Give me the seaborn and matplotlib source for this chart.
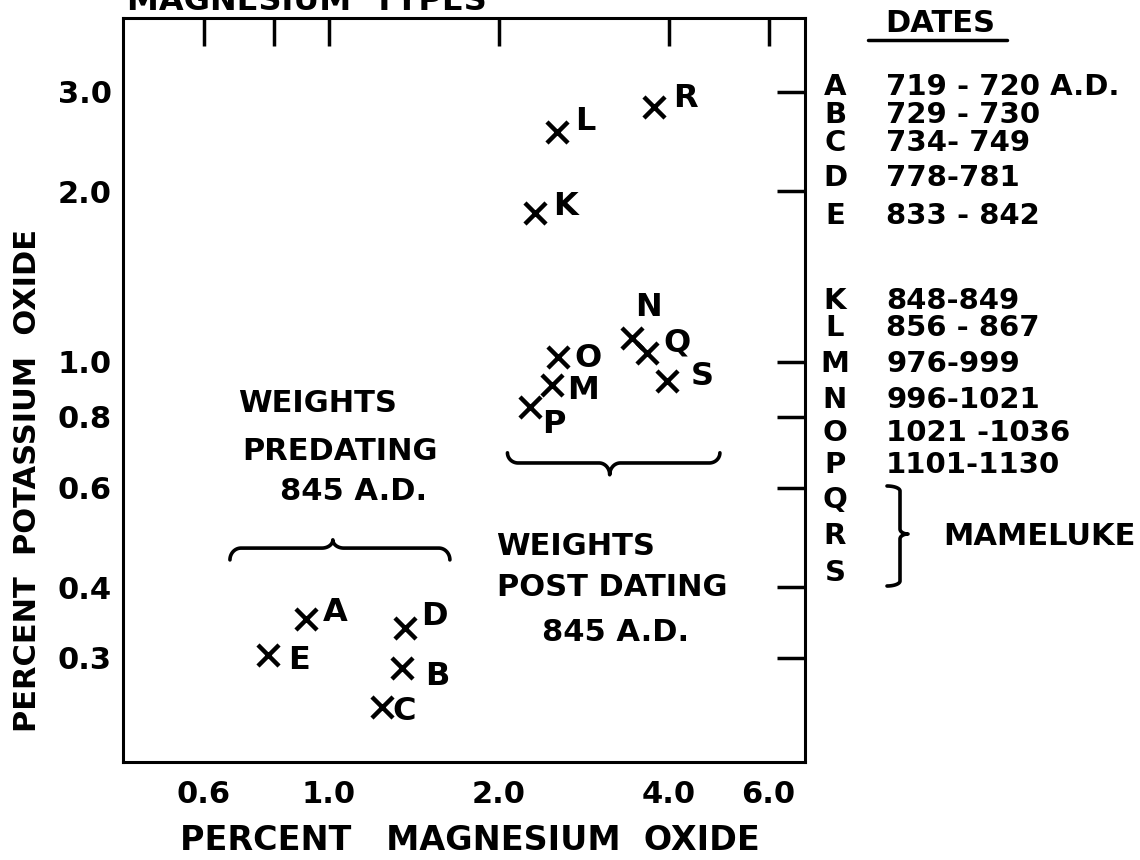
# import libraries
import numpy as np
import pandas as pd
import seaborn as sns
import matplotlib.pyplot as plt
from matplotlib.lines import Line2D
from matplotlib.ticker import FixedLocator, FixedFormatter, NullFormatter, NullLocator

# sample letters with percent oxides
samples = ["A", "B", "C", "D", "E", "K", "L", "M", "N", "O", "P", "Q", "R", "S"]
mgo = [0.909, 1.346, 1.241, 1.363, 0.780, 2.316, 2.532, 2.48, 3.44, 2.544, 2.27, 3.65, 3.76, 3.97]
k2o = [0.3515, 0.288, 0.2457, 0.339, 0.304, 1.834, 2.55, 0.911, 1.10, 1.02, 0.833, 1.037, 2.82, 0.926]

# axis ticks
xTicks = [0.6, 0.8, 1.0, 2.0, 4.0, 6.0]
xTickLabels = ["0.6", "", "1.0", "2.0", "4.0", "6.0"]
yTicks = [0.3, 0.4, 0.6, 0.8, 1.0, 2.0, 3.0]
yTickLabels = ["0.3", "0.4", "0.6", "0.8", "1.0", "2.0", "3.0"]

# date key on the right
keyLetters = ["A", "B", "C", "D", "E", "K", "L", "M", "N", "O", "P", "Q", "R", "S"]
keyDates = ["719 - 720 A.D.", "729 - 730", "734- 749", "778-781", "833 - 842",
            "848-849", "856 - 867", "976-999", "996-1021", "1021 -1036", "1101-1130",
            "", "", ""]

# group notes and their braces (x0, x1, cusp x, line y, cusp y, hook y)
groupNotes = [("WEIGHTS", 0.690, 0.816), ("PREDATING", 0.702, 0.671), ("845 A.D.", 0.819, 0.570),
              ("WEIGHTS", 1.98, 0.456), ("POST DATING", 1.98, 0.386), ("845 A.D.", 2.38, 0.321)]
predatingBrace = [0.668, 1.637, 1.016, 0.469, 0.485, 0.447]
postdatingBrace = [2.07, 4.92, 3.14, 0.663, 0.632, 0.691]

# ---- layout / styling (pixels of a 1140x860 figure) ----
W, H = 1140, 860
PX = 100 / 72  # pixels per point
labelOffsets = {"A": (30, -10), "B": (35, 6), "C": (22, 1), "D": (29, -14), "E": (31, 3),
                "K": (30, -9), "L": (28, -13), "M": (31, 3), "N": (16, -34), "O": (30, -2),
                "P": (24, 15), "Q": (30, -13), "R": (32, -12), "S": (35, -7)}
keyRowY = [85, 113, 141, 176, 214, 299, 326, 362, 398, 431, 463, 498, 534, 571]


def bracePoints(a0, a1, ac, b, tip, hook, n=20):
    # curly brace along a, with hooks at the ends and a cusp at ac
    r = 0.05 * (a1 - a0)
    t = np.linspace(0, np.pi / 2, n)
    a = np.concatenate([a0 + r - r * np.cos(t), ac - r + r * np.sin(t),
                        ac + r - r * np.cos(t), a1 - r + r * np.sin(t)])
    c = np.concatenate([hook + (b - hook) * np.sin(t), b + (tip - b) * (1 - np.cos(t)),
                        tip + (b - tip) * np.sin(t), b + (hook - b) * (1 - np.cos(t))])
    return a, c


def main():
    sns.set_style("white")
    plt.rcParams['font.family'] = ['DejaVu Sans']
    plt.rcParams['font.weight'] = 'bold'
    plt.rcParams['text.color'] = 'black'
    plt.rcParams['axes.labelcolor'] = 'black'

    fig = plt.figure(figsize=(W / 100, H / 100), dpi=100)
    ax = fig.add_axes([123 / W, 98 / H, 682 / W, 744 / H])

    df = pd.DataFrame({"sample": samples, "MgO": mgo, "K2O": k2o})
    sns.scatterplot(data=df, x="MgO", y="K2O", marker="x", s=230, color="black",
                    linewidth=3.2, legend=False, ax=ax)

    # log-log axes
    ax.set_xscale("log")
    ax.set_yscale("log")
    ax.set_xlim(0.432, 6.96)
    ax.set_ylim(0.1965, 4.05)

    ax.xaxis.set_major_locator(FixedLocator(xTicks))
    ax.xaxis.set_major_formatter(FixedFormatter(xTickLabels))
    ax.xaxis.set_minor_locator(FixedLocator([1.0]))
    ax.xaxis.set_minor_formatter(NullFormatter())
    ax.yaxis.set_major_locator(FixedLocator(yTicks))
    ax.yaxis.set_major_formatter(FixedFormatter(yTickLabels))
    ax.yaxis.set_minor_locator(NullLocator())

    ax.tick_params(which="major", direction="in", length=20, width=2.5, top=True, right=True,
                   labelsize=22, colors="black")
    ax.tick_params(axis="x", which="minor", direction="in", length=29, width=2.5, top=True)
    ax.tick_params(axis="x", which="major", pad=13)
    ax.tick_params(axis="y", which="major", pad=8)
    for s in ax.spines.values():
        s.set_linewidth(2.2)
        s.set_color("black")

    # axis labels
    ax.set_xlabel("PERCENT   MAGNESIUM  OXIDE", fontsize=24, fontweight="bold")
    ax.xaxis.set_label_coords(0.509, -0.083)
    ax.set_ylabel("PERCENT  POTASSIUM  OXIDE", fontsize=22, fontweight="bold")
    ax.yaxis.set_label_coords(-0.119, 0.379)

    # letter next to each point
    for letter, x, y in zip(samples, mgo, k2o):
        dx, dy = labelOffsets[letter]
        ax.annotate(letter, (x, y), xytext=(dx / PX, -(dy + 11.5) / PX), textcoords="offset points",
                    ha="center", va="baseline", fontsize=23, fontweight="bold")

    # group notes and braces
    for text, x, y in groupNotes:
        ax.text(x, y, text, ha="left", va="baseline", fontsize=22, fontweight="bold")
    for br in [predatingBrace, postdatingBrace]:
        a, c = bracePoints(*np.log10(br))
        ax.plot(10 ** a, 10 ** c, color="black", lw=2.6, solid_capstyle="round")

    # truncated heading at the very top
    fig.text(127 / W, 1 - 10 / H, "MAGNESIUM  TYPES", ha="left", va="baseline",
             fontsize=23, fontweight="bold")

    # date key
    fig.text(885 / W, 1 - 32 / H, "DATES", ha="left", va="baseline", fontsize=22, fontweight="bold")
    fig.add_artist(Line2D([868 / W, 1007 / W], [1 - 40 / H] * 2, transform=fig.transFigure,
                          color="black", lw=2.5))
    for letter, date, y in zip(keyLetters, keyDates, keyRowY):
        fig.text(835 / W, 1 - (y + 10) / H, letter, ha="center", va="baseline",
                 fontsize=21, fontweight="bold")
        fig.text(886 / W, 1 - (y + 10) / H, date, ha="left", va="baseline",
                 fontsize=21, fontweight="bold")
    fig.text(943 / W, 1 - 545 / H, "MAMELUKE", ha="left", va="baseline", fontsize=22, fontweight="bold")
    a, c = bracePoints(486, 586, 534, 900, 908, 887)
    fig.add_artist(Line2D(c / W, 1 - a / H, transform=fig.transFigure, color="black", lw=2.6))

    fig.savefig("out.png", dpi=100)


main()
